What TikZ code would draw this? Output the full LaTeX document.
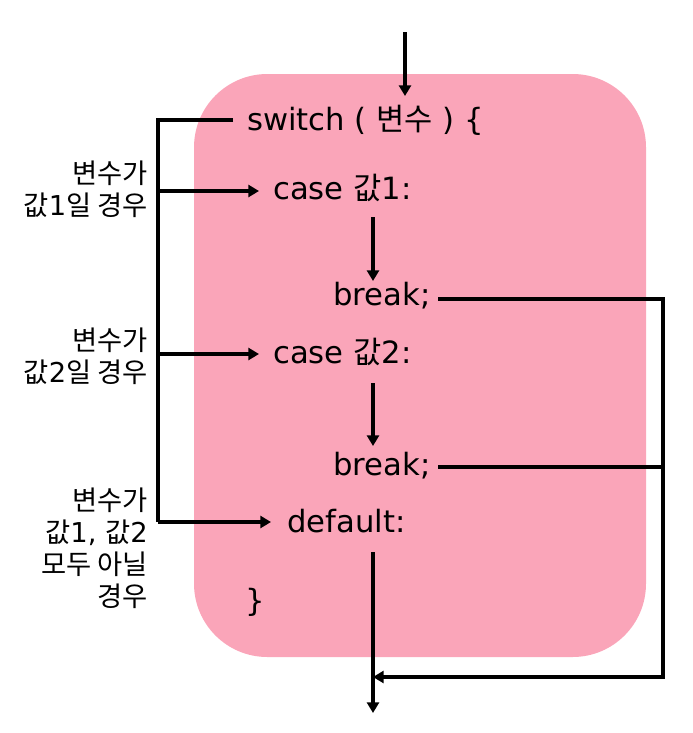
\documentclass[tikz,border=0pt]{standalone}
\usepackage{fontspec}
\setmainfont{DejaVu Sans}
\newfontfamily\kr{Noto Sans CJK KR}
\newcommand\K[1]{{\kr #1}}
\usetikzlibrary{arrows.meta}
\definecolor{boxpink}{RGB}{250,165,185}
\begin{document}
\begin{tikzpicture}[x=0.75pt,y=-0.75pt,
  code/.style={inner sep=0pt,anchor=base west,font=\fontsize{23}{28}\selectfont},
  lbl/.style={inner sep=0pt,anchor=base east,font=\fontsize{20.5}{24}\selectfont},
  wire/.style={line width=2.6pt,draw=black},
  arr/.style={wire,-{Triangle[length=8pt,width=9pt]}}]
\useasboundingbox (0,0) rectangle (693,733);
\fill[boxpink,rounded corners=55pt] (194,74) rectangle (646,657);

% code texts
\node[code] (sw) at (247,130) {switch ( \K{변수} ) \{};
\node[code] (c1) at (273,199) {case \K{값}1:};
\node[code] (b1) at (333,305) {break;};
\node[code] (c2) at (273,363) {case \K{값}2:};
\node[code] (b2) at (333,475) {break;};
\node[code] (df) at (287,532) {default:};
\node[code] (cl) at (245,611) {\}};

% labels
\node[lbl] (l1a) at (148,183) {\K{변수가}};
\node[lbl] (l1b) at (148,215) {\K{값}1\K{일 경우}};
\node[lbl] (l2a) at (148,350) {\K{변수가}};
\node[lbl] (l2b) at (148,382) {\K{값}2\K{일 경우}};
\node[lbl] (l3a) at (148,510) {\K{변수가}};
\node[lbl] (l3b) at (148,542) {\K{값}1, \K{값}2};
\node[lbl] (l3c) at (148,574) {\K{모두 아닐}};
\node[lbl] (l3d) at (148,606) {\K{경우}};

% coordinates
\coordinate (top0) at (405,32);
\coordinate (top1) at (405,96);
\coordinate (sL) at (233,120);
\coordinate (br0) at (158,120);
\coordinate (br1) at (158,191);
\coordinate (br2) at (158,354);
\coordinate (br3) at (158,522);
\coordinate (c1in) at (259,191);
\coordinate (c2in) at (259,354);
\coordinate (dfin) at (271,522);
\coordinate (a1s) at (373,217);
\coordinate (a1e) at (373,281);
\coordinate (a2s) at (373,383);
\coordinate (a2e) at (373,446);
\coordinate (b1o) at (438,299);
\coordinate (b2o) at (438,467);
\coordinate (r1) at (663,299);
\coordinate (r2) at (663,467);
\coordinate (r3) at (663,677);
\coordinate (j) at (373,677);
\coordinate (ds) at (373,552);
\coordinate (de) at (373,713);

% connectors
\draw[arr] (top0) -- (top1);
\draw[wire] (sL) -- (br0) -- (br3);
\draw[arr] (br1) -- (c1in);
\draw[arr] (br2) -- (c2in);
\draw[arr] (br3) -- (dfin);
\draw[arr] (a1s) -- (a1e);
\draw[arr] (a2s) -- (a2e);
\draw[arr] (b1o) -- (r1) -- (r3) -- (j);
\draw[wire] (b2o) -- (r2);
\draw[arr] (ds) -- (de);
\end{tikzpicture}
\end{document}
